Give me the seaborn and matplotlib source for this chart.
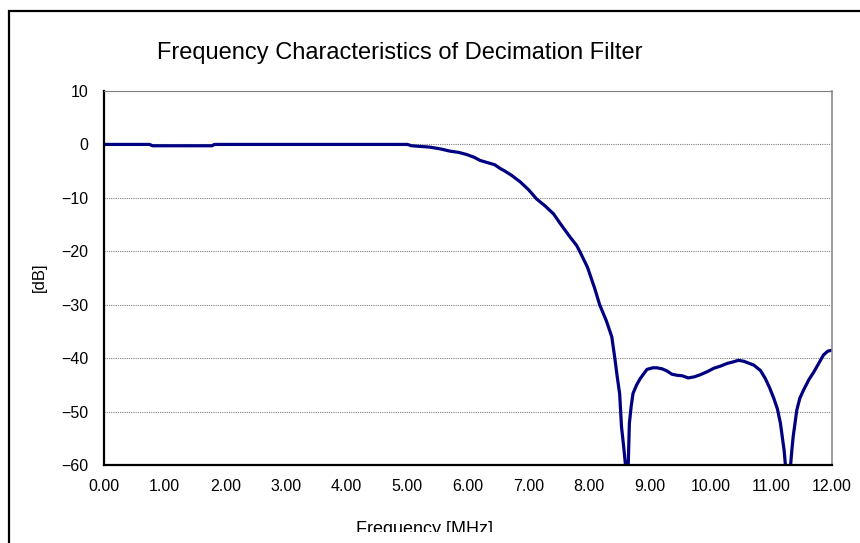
import numpy as np
import pandas as pd
import matplotlib
matplotlib.use("Agg")
import matplotlib.pyplot as plt
from matplotlib.patches import Rectangle
from matplotlib.transforms import Bbox
import seaborn as sns

# frequency response
freq_mhz = [0.00, 0.50, 0.75, 0.80, 1.50, 1.78, 1.82, 3.00, 4.00, 5.00,
            5.07, 5.37, 5.55, 5.70, 5.85, 5.98, 6.10, 6.20, 6.32, 6.44,
            6.53, 6.61, 6.72, 6.86, 7.00, 7.13, 7.27, 7.41, 7.52, 7.68,
            7.79, 7.85, 7.97, 8.09, 8.17, 8.28, 8.37, 8.42, 8.46, 8.50,
            8.53, 8.57, 8.60, 8.62, 8.64, 8.66, 8.69, 8.72, 8.78, 8.84,
            8.95, 9.05, 9.11, 9.20, 9.28, 9.36, 9.44, 9.53, 9.63, 9.73,
            9.83, 9.95, 10.05, 10.16, 10.27, 10.37, 10.46, 10.55, 10.71, 10.82,
            10.90, 10.97, 11.04, 11.10, 11.15, 11.21, 11.24, 11.27, 11.31, 11.34,
            11.36, 11.42, 11.47, 11.53, 11.62, 11.70, 11.78, 11.86, 11.93, 12.00]
gain_db = [0.0, 0.0, 0.0, -0.25, -0.25, -0.25, 0.0, 0.0, 0.0, 0.0,
           -0.25, -0.5, -0.85, -1.25, -1.5, -1.9, -2.4, -3.0, -3.4, -3.8,
           -4.5, -5.0, -5.8, -7.0, -8.5, -10.2, -11.5, -13.0, -14.8, -17.3,
           -18.9, -20.2, -23.0, -27.0, -30.0, -33.0, -36.0, -40.0, -43.5, -46.7,
           -52.8, -57.0, -60.5, -65.0, -60.5, -52.2, -49.0, -46.6, -45.0, -43.8,
           -42.1, -41.8, -41.8, -42.0, -42.4, -43.0, -43.2, -43.3, -43.7, -43.5,
           -43.1, -42.5, -41.9, -41.5, -41.0, -40.7, -40.4, -40.6, -41.3, -42.3,
           -43.8, -45.5, -47.5, -49.5, -52.2, -57.2, -61.0, -66.0, -61.0, -57.0,
           -54.7, -49.7, -47.5, -46.0, -44.0, -42.6, -41.0, -39.4, -38.7, -38.5]

x_ticks = np.arange(0, 13, 1)
y_ticks = np.arange(-60, 11, 10)

df = pd.DataFrame({"freq": freq_mhz, "gain": gain_db})

sns.set_style("white")
plt.rcParams["font.family"] = ["Liberation Sans", "DejaVu Sans"]
plt.rcParams["text.color"] = "black"

fig = plt.figure(figsize=(8.6, 5.43), dpi=100)
ax = fig.add_axes([104 / 860, 1 - 465 / 543, (832 - 104) / 860, (465 - 91) / 543])

sns.lineplot(data=df, x="freq", y="gain", color="#000080", linewidth=2.3,
             ax=ax, legend=False)

ax.set_xlim(0, 12)
ax.set_ylim(-60, 10)
ax.set_xticks(x_ticks)
ax.set_xticklabels([f"{v:.2f}" for v in x_ticks])
ax.set_yticks(y_ticks)
ax.set_yticklabels([f"{v}".replace("-", "\u2212") for v in y_ticks])
ax.set_xlabel("")
ax.set_ylabel("")

ax.yaxis.grid(True, color="#808080", linestyle=(0, (1, 1)), linewidth=0.8)
ax.xaxis.grid(False)

ax.tick_params(axis="both", direction="in", length=6, width=1.2,
               colors="black", labelsize=11.5)
ax.tick_params(axis="y", pad=11)
ax.tick_params(axis="x", pad=10)

for side in ["left", "bottom"]:
    ax.spines[side].set_color("black")
    ax.spines[side].set_linewidth(1.6)
ax.spines["right"].set_color("#8c8c8c")
ax.spines["right"].set_linewidth(1.2)
ax.spines["top"].set_color("#808080")
ax.spines["top"].set_linewidth(0.8)
ax.spines["top"].set_linestyle((0, (1, 1)))

fig.text(400 / 860, 1 - 53 / 543, "Frequency Characteristics of Decimation Filter",
         ha="center", va="center", fontsize=17, color="black")

# axis title is cut off in the reference, clip it the same way
xlab = fig.text(425 / 860, 1 - 521 / 543, "Frequency [MHz]",
                ha="center", va="top", fontsize=13, color="black")
xlab.set_clip_box(Bbox.from_extents(0, 543 - 532, 860, 543))
xlab.set_clip_on(True)

fig.text(39 / 860, 1 - 277 / 543, "[dB]", rotation=90,
         ha="center", va="center", fontsize=12, color="black")

# outer chart frame, cut by the picture edge on right and bottom
fig.patches.append(Rectangle((9 / 860, -0.2), 1.2, 1.2 - 11 / 543,
                             transform=fig.transFigure, fill=False,
                             edgecolor="black", linewidth=1.6))

fig.savefig("out.png", dpi=100)
